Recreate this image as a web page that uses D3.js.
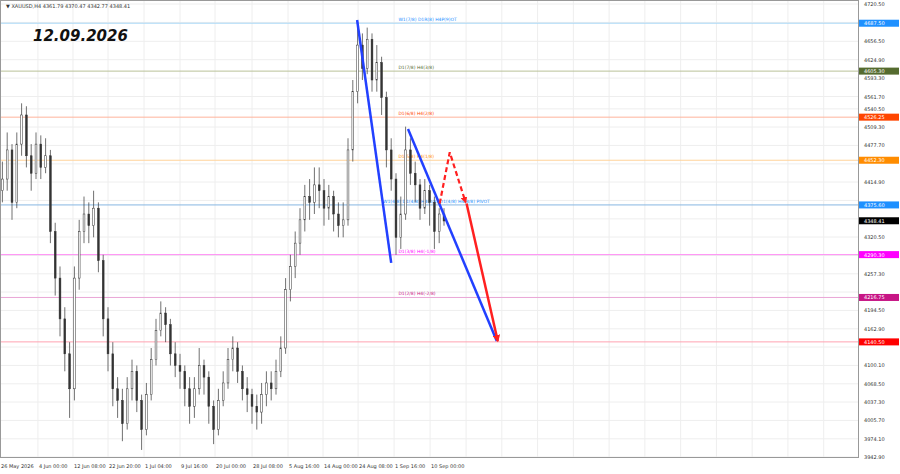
<!DOCTYPE html>
<html><head><meta charset="utf-8">
<script src="https://cdn.jsdelivr.net/npm/d3@7"></script>
<style>body{margin:0;background:#fff}svg{display:block;font-family:"DejaVu Sans",sans-serif}</style>
</head><body><div id="chart"></div>
<script>
// H4 candles
let closes = [4420,4470,4380,4480,4530,4460,4430,4480,4440,4460,4330,4250,4180,4120,4060,4250,4330,4360,4340,4370,
  4280,4180,4120,4060,4040,4000,4060,4090,4040,3990,4050,4110,4160,4190,4170,4120,4100,4090,4060,4030,
  4060,4100,4080,4030,3990,4040,4070,4110,4130,4090,4060,4050,4030,4020,4050,4070,4060,4090,4130,4230,
  4270,4310,4350,4390,4380,4410,4400,4370,4390,4360,4340,4350,4470,4570,4650,4610,4660,4590,4620,4560,
  4470,4420,4320,4360,4470,4430,4410,4370,4400,4380,4330,4360,4348];
let highs = [4450,4500,4480,4500,4550,4545,4480,4500,4495,4490,4470,4345,4270,4200,4140,4270,4350,4390,4380,4400,
  4380,4290,4200,4140,4080,4060,4080,4110,4100,4050,4070,4130,4180,4210,4200,4180,4140,4120,4100,4080,
  4080,4130,4110,4090,4040,4060,4090,4130,4150,4140,4100,4080,4060,4050,4070,4090,4090,4110,4150,4250,
  4290,4330,4370,4410,4420,4440,4440,4420,4410,4400,4380,4380,4490,4590,4690,4670,4680,4670,4650,4630,
  4570,4490,4430,4390,4510,4490,4450,4420,4420,4410,4390,4370,4370];
let lows = [4380,4400,4350,4370,4460,4440,4400,4420,4420,4430,4310,4220,4150,4090,4010,4040,4230,4310,4310,4320,
  4260,4150,4090,4030,4010,3970,3990,4040,4020,3955,3980,4040,4100,4150,4140,4100,4080,4060,4030,4000,
  4010,4050,4050,4000,3965,3980,4030,4060,4090,4070,4040,4020,4000,3990,4000,4030,4040,4050,4080,4120,
  4210,4250,4290,4330,4350,4360,4370,4340,4350,4330,4320,4320,4340,4450,4550,4590,4600,4570,4570,4530,
  4440,4400,4290,4300,4350,4410,4380,4350,4360,4340,4300,4310,4340];
let firstOpen = 4400;

let priceTicks = [4720.50,4688.90,4656.50,4624.90,4593.30,4561.70,4540.50,4509.30,4477.70,4446.10,4414.90,4383.30,
  4351.70,4320.50,4288.90,4257.30,4226.10,4194.50,4162.90,4131.70,4100.10,4068.50,4037.30,4005.70,3974.10,3942.90];
let dateLabels = ['26 May 2026','4 Jun 00:00','12 Jun 08:00','22 Jun 20:00','1 Jul 04:00','9 Jul 16:00','20 Jul 00:00',
  '28 Jul 08:00','5 Aug 16:00','14 Aug 00:00','24 Aug 08:00','1 Sep 16:00','10 Sep 00:00'];
let dateIndex = [0,7.9,15.2,22.5,30,37.5,44.8,52.5,60,67.3,74.6,82.1,89.6];

let levelValues = [4687.50,4605.30,4526.25,4452.30,4375.60,4290.30,4216.75,4140.50];
let levelColors = ['#a9d8f7','#b9c299','#ffb49c','#ffd39a','#86b6e2','#ff8cf4','#eaa6d6','#ffa3b1'];
let levelTags = ['#1e90ff','#556b2f','#ff4500','#ff8c00','#1e90ff','#ff00ff','#c71585','#ff0000'];
let levelTexts = ['W1(7/8) D1R(8) H4P(9)OT','D1(7/8) H4(3/8)','D1(6/8) H4(2/8)','D1(5/8) H4(1/8)',
  'W1(4/8) D1(4/8) H4(0/8) D1(4/8) H4(8/8) PIVOT','D1(3/8) H4(-1/8)','D1(2/8) H4(-2/8)',''];
let currentPrice = 4348.41;

let blueLines = [[[74.4,4693],[81.5,4276]],[[85,4506],[103.5,4142]]];
let redDashed = [[91.6,4378],[93.7,4466],[97,4380]];
let redSolid = [[97.2,4378],[103.7,4142]];

let W = 900, H = 474, plotW = 858, plotH = 457;
let svg = d3.select('#chart').append('svg').attr('width', W).attr('height', H);
let x = d3.scaleLinear().domain([0, 178.75]).range([0, plotW]);
let y = d3.scaleLinear().domain([3942.9, 4720.5]).range([457, 4]);

// grid
svg.append('g').selectAll('line').data(priceTicks).enter().append('line')
  .attr('x1', 0).attr('x2', plotW).attr('y1', d => y(d)).attr('y2', d => y(d))
  .attr('stroke', '#eeeeee');
svg.append('g').selectAll('line').data(dateIndex.concat(d3.range(97.1, 178, 7.45))).enter().append('line')
  .attr('x1', d => x(d)).attr('x2', d => x(d)).attr('y1', 0).attr('y2', plotH)
  .attr('stroke', '#eeeeee');

// levels
levelValues.forEach((v, i) => {
  svg.append('line').attr('x1', 0).attr('x2', plotW).attr('y1', y(v)).attr('y2', y(v))
    .attr('stroke', levelColors[i]).attr('stroke-width', 1);
  if (levelTexts[i]) svg.append('text').attr('x', i === 4 ? x(79.8) : x(83)).attr('y', y(v) - 2)
    .attr('font-size', 4.5).attr('fill', levelTags[i]).text(levelTexts[i]);
});

// candles
let cw = 1.8;
let g = svg.append('g');
closes.forEach((c, i) => {
  let o = i === 0 ? firstOpen : closes[i - 1];
  let cx = x(i) + 2.4;
  g.append('line').attr('x1', cx).attr('x2', cx).attr('y1', y(highs[i])).attr('y2', y(lows[i]))
    .attr('stroke', '#333').attr('stroke-width', 0.7);
  g.append('rect').attr('x', cx - cw / 2).attr('width', cw)
    .attr('y', y(Math.max(o, c))).attr('height', Math.max(1, Math.abs(y(o) - y(c))))
    .attr('fill', c >= o ? '#fff' : '#333').attr('stroke', '#333').attr('stroke-width', 0.5);
});

// drawn lines
let line = d3.line().x(d => x(d[0])).y(d => y(d[1]));
blueLines.forEach(l => svg.append('path').attr('d', line(l)).attr('stroke', '#2240ff')
  .attr('stroke-width', 2.5).attr('fill', 'none'));
svg.append('defs').append('marker').attr('id', 'ah').attr('viewBox', '0 0 10 10').attr('refX', 8).attr('refY', 5)
  .attr('markerWidth', 3).attr('markerHeight', 3).attr('orient', 'auto')
  .append('path').attr('d', 'M0,0L10,5L0,10z').attr('fill', '#ff2020');
svg.append('path').attr('d', line(redDashed)).attr('stroke', '#ff2020').attr('stroke-width', 2.2)
  .attr('stroke-dasharray', '5,3').attr('fill', 'none').attr('marker-end', 'url(#ah)');
svg.append('path').attr('d', line(redSolid)).attr('stroke', '#ff2020').attr('stroke-width', 2.5)
  .attr('fill', 'none').attr('marker-end', 'url(#ah)');

// frame + axes
svg.append('rect').attr('x', 0.5).attr('y', 0.5).attr('width', plotW).attr('height', plotH)
  .attr('fill', 'none').attr('stroke', '#999');
let tagValues = levelValues.concat([currentPrice]);
let freeTicks = priceTicks.filter(t => tagValues.every(v => Math.abs(y(v) - y(t)) > 6));
svg.append('g').selectAll('text').data(freeTicks).enter().append('text')
  .attr('x', 864).attr('y', d => y(d) + 2).attr('font-size', 5).attr('fill', '#333').text(d => d.toFixed(2));
svg.append('g').selectAll('text').data(dateIndex).enter().append('text')
  .attr('x', d => x(d) + 1).attr('y', 468).attr('font-size', 5).attr('fill', '#333')
  .text((d, i) => dateLabels[i]);
tagValues.forEach((v, i) => {
  let col = i < levelValues.length ? levelTags[i] : '#000';
  svg.append('rect').attr('x', plotW + 1).attr('y', y(v) - 3.5).attr('width', 40).attr('height', 7).attr('fill', col);
  svg.append('text').attr('x', 864).attr('y', y(v) + 2).attr('font-size', 5).attr('fill', '#fff').text(v.toFixed(2));
});

svg.append('text').attr('x', 6).attr('y', 8).attr('font-size', 5).attr('fill', '#333')
  .text('▼ XAUUSD,H4  4361.79 4370.47 4342.77 4348.41');
svg.append('text').attr('x', 33).attr('y', 41).attr('font-size', 15).attr('font-weight', 'bold')
  .attr('font-style', 'italic').attr('fill', '#111').text('12.09.2026');
</script></body></html>
